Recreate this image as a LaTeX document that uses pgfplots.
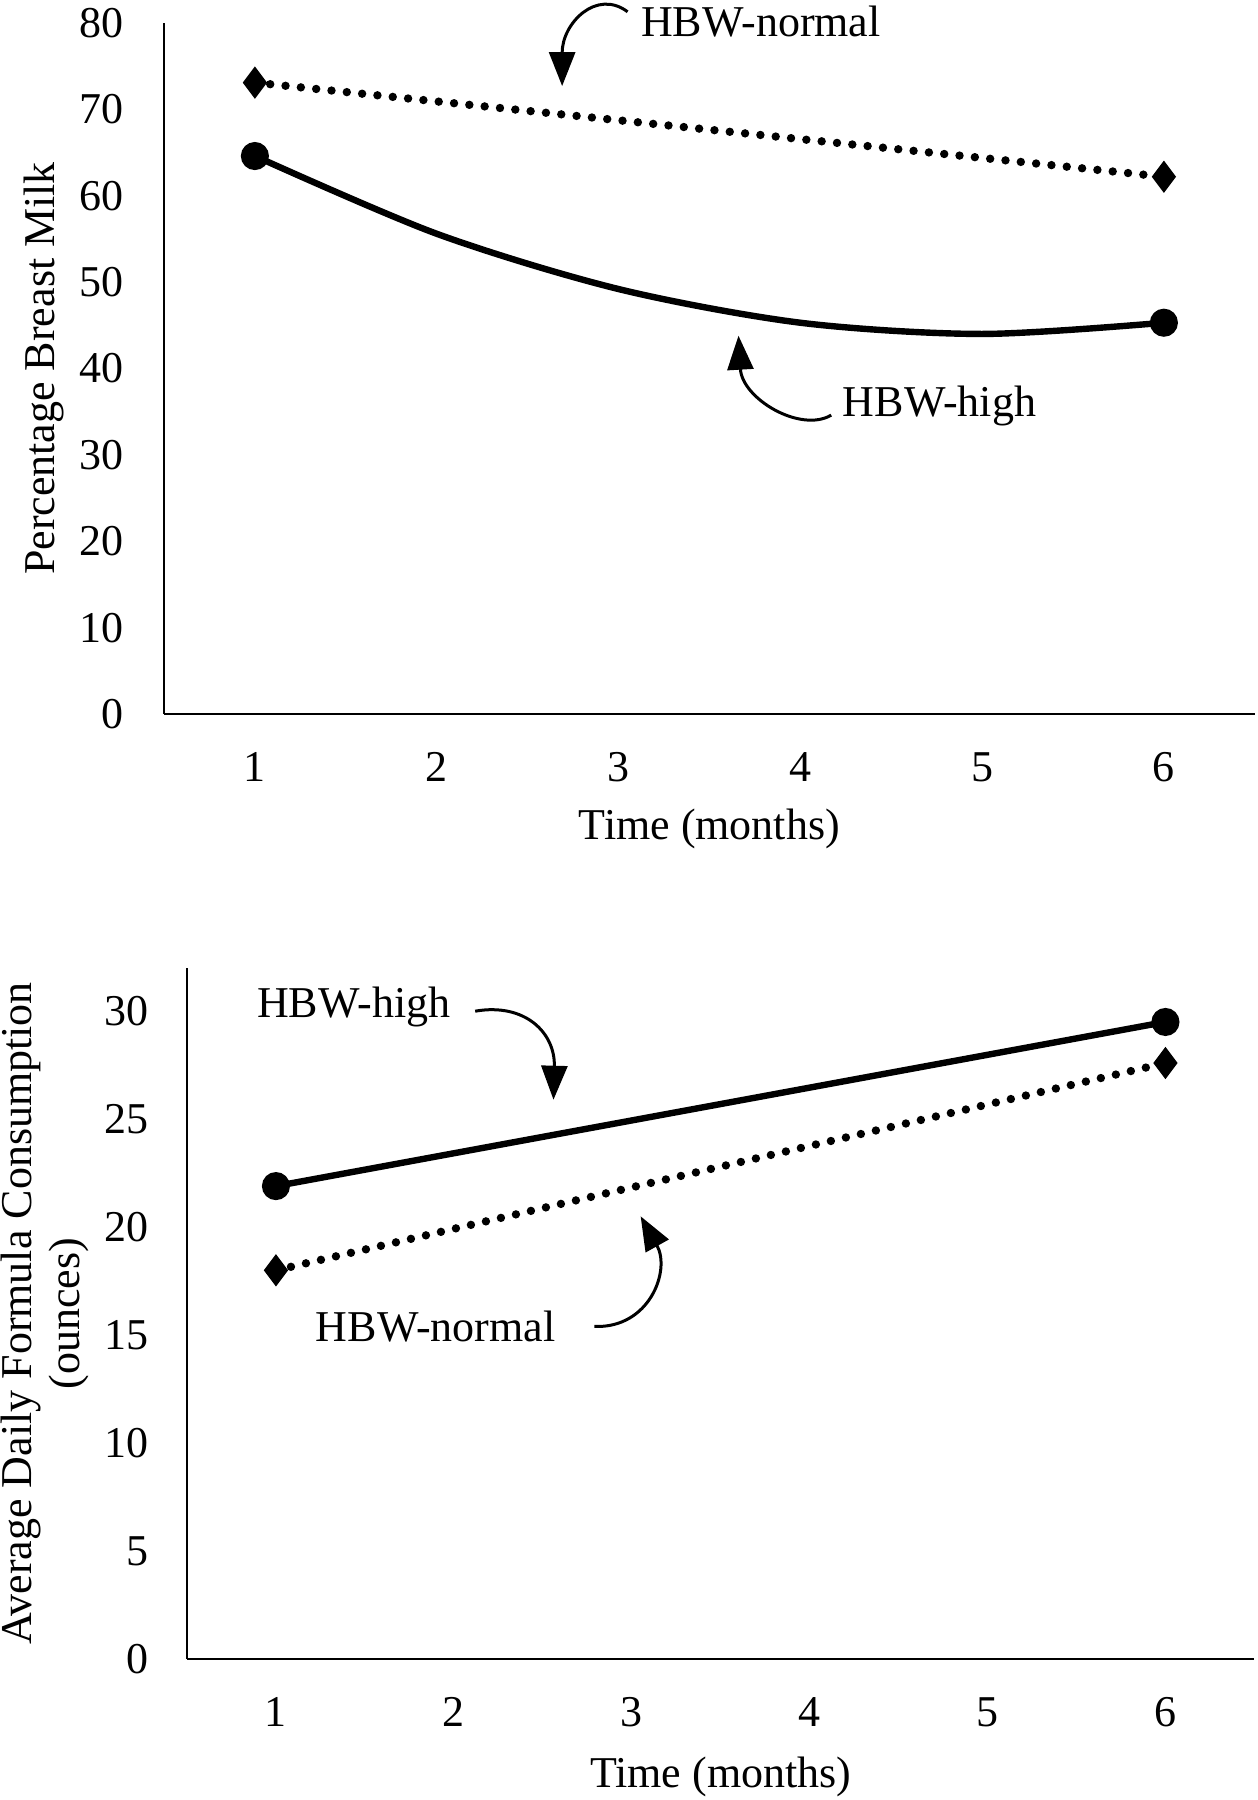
\documentclass[border=0pt]{standalone}
\usepackage{fontspec}
\setmainfont{Liberation Serif}
\usepackage{pgfplots}
\pgfplotsset{compat=1.18}
\usetikzlibrary{arrows.meta}

\tikzset{annarrow/.style={-{Triangle[length=8.5pt,width=6.5pt]}, line width=0.75pt, black}}
\pgfplotsset{
 mystyle/.style={
  scale only axis,
  axis lines=left,
  axis line style={-, line width=0.7pt, black},
  major tick length=0pt,
  tick style={draw=none},
  xmin=0.5, xmax=6.5,
  xtick={1,2,3,4,5,6},
  /pgf/number format/assume math mode=true,
  tick label style={font=\fontsize{11}{13}\selectfont, inner sep=0pt},
  xticklabel style={anchor=north, yshift=-9.5pt},
  label style={font=\fontsize{11}{12}\selectfont},
  clip=false,
 },
 highline/.style={black, line width=1.6pt, mark=*, mark size=2.7pt, mark options={solid}},
 normline/.style={black, line width=2.1pt, dash pattern=on 0pt off 3.85pt, line cap=round,
   mark=diamond*, mark size=3.8pt, mark options={solid, line cap=butt, line width=0.3pt}},
}

\begin{document}
\begin{tikzpicture}[font=\fontsize{11}{13}\selectfont]
\useasboundingbox (0,0) rectangle (314.25pt,450pt);

% ---------- top panel ----------
\begin{axis}[mystyle,
  at={(41pt,271.5pt)}, anchor=south west,
  width=272.7pt, height=172.75pt,
  ymin=0, ymax=80, ytick={0,10,...,80},
  yticklabel style={anchor=east, xshift=-10pt},
  xlabel={Time (months)},
  xlabel style={at={(axis description cs:0.5,0)}, anchor=center, yshift=-28.75pt},
  ylabel={Percentage Breast Milk},
  ylabel style={at={(axis description cs:-0.11,0.5)}, anchor=center},
]
\addplot[normline] coordinates {(1,73.1) (6,62.2)};
\addplot[highline, smooth, mark indices={1,6}] coordinates {
 (1,64.6) (2,55.6) (3,49.2) (4,45.3) (5,44.0) (6,45.3)};
\node[anchor=base west, inner sep=0pt] at (axis cs:3.12,78.4) {HBW-normal};
\draw[annarrow] (axis cs:3.05,81.3) .. controls (axis cs:2.88,84) and (axis cs:2.69,80) .. (axis cs:2.69,72.7);
\node[anchor=base west, inner sep=0pt] at (axis cs:4.23,34.5) {HBW-high};
\draw[annarrow] (axis cs:4.17,34.6) .. controls (axis cs:4.0,32.5) and (axis cs:3.68,36.5) .. (axis cs:3.66,43.8);
\end{axis}

% ---------- bottom panel ----------
\begin{axis}[mystyle,
  at={(46.75pt,35.25pt)}, anchor=south west,
  width=266.85pt, height=172.75pt,
  ymin=0, ymax=32, ytick={0,5,...,30},
  yticklabel style={anchor=east, xshift=-9.5pt},
  xlabel={Time (months)},
  xlabel style={at={(axis description cs:0.5,0)}, anchor=center, yshift=-29.5pt},
  ylabel={Average Daily Formula Consumption\\(ounces)},
  ylabel style={at={(axis description cs:-0.133,0.5)}, anchor=center, align=center},
]
\addplot[normline] coordinates {(1,18.0) (6,27.6)};
\addplot[highline] coordinates {(1,21.9) (6,29.5)};
\node[anchor=base west, inner sep=0pt] at (axis cs:0.89,29.7) {HBW-high};
\draw[annarrow] (axis cs:2.12,30.0) .. controls (axis cs:2.40,30.4) and (axis cs:2.57,29.0) .. (axis cs:2.56,25.9);
\node[anchor=base west, inner sep=0pt] at (axis cs:1.22,14.7) {HBW-normal};
\draw[annarrow] (axis cs:2.79,15.4) .. controls (axis cs:3.1,15.3) and (axis cs:3.22,18.0) .. (axis cs:3.05,20.5);
\end{axis}
\end{tikzpicture}
\end{document}
